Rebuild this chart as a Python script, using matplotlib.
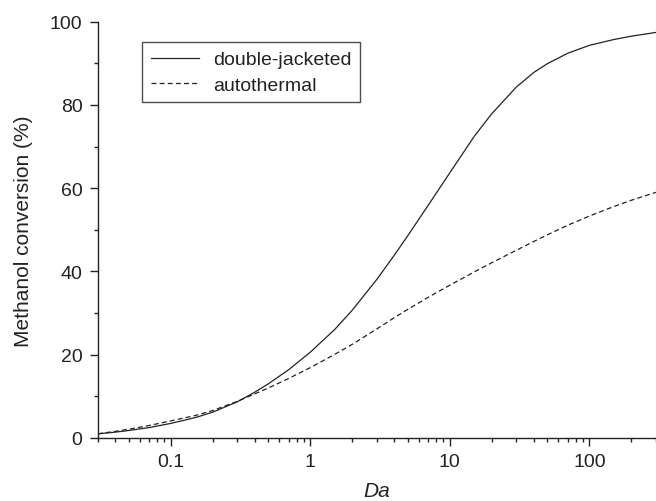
import matplotlib
matplotlib.use("Agg")
import matplotlib.pyplot as plt
from matplotlib.ticker import FixedLocator, MultipleLocator, FuncFormatter

plt.rcParams["font.family"] = ["Liberation Sans", "DejaVu Sans"]

# Damkoehler number (x) and methanol conversion in % for the two reactor types
da = [0.03, 0.04, 0.05, 0.07, 0.1, 0.15, 0.2, 0.3, 0.4, 0.5, 0.7, 1.0,
      1.5, 2, 3, 4, 5, 7, 10, 15, 20, 30, 40, 50, 70, 100, 150, 200, 300]
double_jacketed = [1.0, 1.4, 1.8, 2.5, 3.5, 4.9, 6.2, 8.7, 11.0, 13.0, 16.4,
                   20.6, 26.1, 30.7, 38.1, 43.9, 48.6, 55.9, 63.7, 72.5, 77.9,
                   84.3, 87.8, 89.9, 92.4, 94.3, 95.7, 96.5, 97.4]
autothermal = [1.0, 1.6, 2.1, 3.0, 4.1, 5.4, 6.6, 8.8, 10.6, 12.0, 14.3,
               16.9, 20.1, 22.5, 26.2, 28.9, 30.9, 33.8, 36.7, 39.9, 42.1,
               45.1, 47.2, 48.8, 51.1, 53.3, 55.6, 57.1, 59.0]

fig = plt.figure(figsize=(6.56, 5.02), dpi=100)
ax = fig.add_axes([0.149, 0.1255, 0.851, 0.8295])

ax.plot(da, double_jacketed, color="#222222", lw=0.9,
        label="double-jacketed")
ax.plot(da, autothermal, color="#222222", lw=0.9, dashes=(4, 2.5),
        label="autothermal")

ax.set_xscale("log")
ax.set_xlim(0.03, 300)
ax.set_ylim(0, 100)

ax.xaxis.set_major_locator(FixedLocator([0.1, 1, 10, 100]))
minors = [m * 10.0 ** e for e in range(-2, 3) for m in range(2, 10)]
ax.xaxis.set_minor_locator(FixedLocator(minors))
ax.xaxis.set_major_formatter(FuncFormatter(lambda v, p: f"{v:g}"))
ax.xaxis.set_minor_formatter(FuncFormatter(lambda v, p: ""))
ax.yaxis.set_major_locator(MultipleLocator(20))
ax.yaxis.set_minor_locator(MultipleLocator(10))

for s in ["top", "right"]:
    ax.spines[s].set_visible(False)
for s in ["left", "bottom"]:
    ax.spines[s].set_linewidth(1.0)
    ax.spines[s].set_color("#222222")

ax.tick_params(which="major", length=6, width=1.0, pad=5, labelsize=14,
               colors="#222222", direction="out")
ax.tick_params(which="minor", length=3, width=1.0, colors="#222222",
               direction="out")

ax.set_xlabel("Da", fontsize=15, style="italic", color="#222222", labelpad=8)
ax.set_ylabel("Methanol conversion (%)", fontsize=15, color="#222222",
              labelpad=12)

leg = ax.legend(loc="upper left", bbox_to_anchor=(0.079, 0.951),
                borderaxespad=0, fontsize=14, frameon=True, fancybox=False,
                handlelength=2.5, handletextpad=0.7, borderpad=0.45,
                labelspacing=0.4)
leg.get_frame().set_edgecolor("#222222")
leg.get_frame().set_linewidth(1.0)
for t in leg.get_texts():
    t.set_color("#222222")

fig.savefig("out.png", dpi=100)
